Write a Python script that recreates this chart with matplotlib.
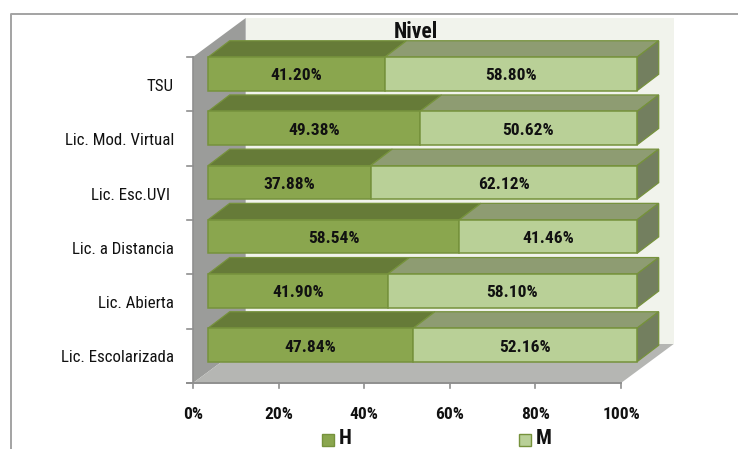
import matplotlib
matplotlib.use("Agg")
import matplotlib.pyplot as plt
from matplotlib.patches import Polygon, Rectangle

categories = ["Lic. Escolarizada", "Lic. Abierta", "Lic. a Distancia", "Lic. Esc.UVI ", "Lic. Mod. Virtual", "TSU"]
h_values = [47.84, 41.90, 58.54, 37.88, 49.38, 41.20]
m_values = [52.16, 58.10, 41.46, 62.12, 50.62, 58.80]
x_ticks = [0, 20, 40, 60, 80, 100]
series_names = ["H", "M"]
title = "Nivel"

W, H = 738, 449
plt.rcParams["font.family"] = ["Roboto Condensed", "Liberation Sans", "DejaVu Sans"]

# x data unit = percent (bar front face), y data unit = category row
PX_PER_PCT = 4.29
X0 = 208.0
ROW = 54.2
Y0 = 345.0
fig = plt.figure(figsize=(W / 100, H / 100), dpi=100)
ax = fig.add_axes([0, 0, 1, 1])
ax.set_xlim(-X0 / PX_PER_PCT, (W - X0) / PX_PER_PCT)
ax.set_ylim((Y0 - H) / ROW, Y0 / ROW)
ax.axis("off")

def dx(p): return p / PX_PER_PCT
def dy(p): return p / ROW
def xp(p): return (p - X0) / PX_PER_PCT
def yp(p): return (Y0 - p) / ROW

def poly(pts, fc, ec="none", lw=0, z=1):
    ax.add_patch(Polygon(pts, closed=True, facecolor=fc, edgecolor=ec, linewidth=lw, zorder=z, joinstyle="miter"))

# chart frame: top and left lines run off the picture
ax.plot([xp(11), xp(11), xp(W)], [yp(H), yp(13.5), yp(13.5)], color="#a3a3a3", lw=1.4, zorder=1)

# 3-D walls
L, R, FB, FT = 193.0, 621.0, 383.0, 57.0
DX, DY = 52.7, 39.0
ax.add_patch(Rectangle((xp(L + DX), yp(FB - DY)), dx(R - L), dy(FB - FT), facecolor="#f1f3ec", edgecolor="none", zorder=1))
poly([(xp(L), yp(FT)), (xp(L + DX), yp(FT - DY)), (xp(L + DX), yp(FB - DY)), (xp(L), yp(FB))], "#9b9c9a", z=2)
poly([(xp(L), yp(FB)), (xp(R), yp(FB)), (xp(R + DX), yp(FB - DY)), (xp(L + DX), yp(FB - DY))], "#b5b6b3", z=2)

# axis lines and ticks
AX = "#8f8f8f"
ax.plot([xp(L), xp(L)], [yp(FT), yp(FB)], color=AX, lw=1.2, zorder=3)
ax.plot([xp(187), xp(R)], [yp(FB), yp(FB)], color=AX, lw=1.4, zorder=3)
for i in range(len(categories) + 1):
    y = yp(FB) + i * (FB - FT) / len(categories) / ROW
    ax.plot([xp(187), xp(L)], [y, y], color=AX, lw=1.2, zorder=3)
AX_SCALE = (R - L) / 100
for t in x_ticks:
    x = xp(L + t * AX_SCALE)
    ax.plot([x, x], [yp(FB), yp(FB + 5)], color=AX, lw=1.2, zorder=3)
    ax.text(x, yp(414.5), f"{t}%", ha="center", va="center", fontsize=12.5, fontweight="bold", color="#111111")

# title sits behind the top bar
ax.text(xp(416), yp(32.5), title, ha="center", va="center", fontsize=15.5, fontweight="bold", color="#111111", zorder=2.5)

# bars
EDGE = "#76923c"
H_FRONT, H_TOP = "#8aa64e", "#667b38"
M_FRONT, M_TOP, M_SIDE = "#b9d097", "#8e9c72", "#737f5f"
BAR_H = dy(33.5)
BDX, BDY = dx(21.7), dy(16.5)
zb = 4
for i in range(len(categories) - 1, -1, -1):
    hv, mv = h_values[i], m_values[i]
    bot = i - BAR_H / 2
    top = i + BAR_H / 2
    end = hv + mv
    poly([(0, top), (hv, top), (hv + BDX, top + BDY), (BDX, top + BDY)], H_TOP, EDGE, 0.9, zb)
    poly([(hv, top), (end, top), (end + BDX, top + BDY), (hv + BDX, top + BDY)], M_TOP, EDGE, 0.9, zb)
    poly([(end, bot), (end + BDX, bot + BDY), (end + BDX, top + BDY), (end, top)], M_SIDE, EDGE, 0.9, zb)
    ax.add_patch(Rectangle((0, bot), hv, BAR_H, facecolor=H_FRONT, edgecolor=EDGE, linewidth=1.1, zorder=zb))
    ax.add_patch(Rectangle((hv, bot), mv, BAR_H, facecolor=M_FRONT, edgecolor=EDGE, linewidth=1.1, zorder=zb))
    yl = i - dy(2)
    ax.text(hv / 2, yl, f"{hv:.2f}%", ha="center", va="center", fontsize=12.5, fontweight="bold", color="#111111", zorder=zb + 1)
    ax.text(hv + mv / 2, yl, f"{mv:.2f}%", ha="center", va="center", fontsize=12.5, fontweight="bold", color="#111111", zorder=zb + 1)
    zb += 0.01
    ax.text(xp(174), i - dy(12.7), categories[i], ha="right", va="center", fontsize=12.2, color="#111111")

# legend
for name, col, sx, tx in zip(series_names, [H_FRONT, M_FRONT], [321.5, 518.5], [338.5, 536]):
    ax.add_patch(Rectangle((xp(sx), yp(446)), dx(12), dy(12.5), facecolor=col, edgecolor=EDGE, linewidth=1.0, zorder=3))
    ax.text(xp(tx), yp(439), name, ha="left", va="center", fontsize=15, fontweight="bold", color="#111111")

fig.savefig("out.png", dpi=100)
